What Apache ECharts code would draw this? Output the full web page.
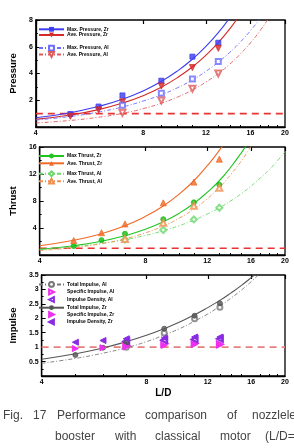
<!DOCTYPE html>
<html><head><meta charset="utf-8">
<script src="https://cdn.jsdelivr.net/npm/echarts@6/dist/echarts.min.js"></script>
<style>html,body{margin:0;padding:0;background:#fff;}#c{width:294px;height:448px;}</style>
</head><body><div id="c"></div>
<script>
// ---- data ----
const xPtsZr = [5, 6, 7, 9, 11, 13];
const xPtsAl = [7, 9, 11, 13];
const xFit = [4, 5, 6, 7, 8, 9, 10, 11, 12, 13, 14, 15, 16, 17, 18, 19, 20];
const xTickLabels = [4, 8, 12, 16, 20];
const xMinorTicks = [5, 6, 7, 9, 10, 11, 13, 14, 15, 17, 18, 19];
const refLevel = [1];

// Pressure
const maxPZr = [0.97, 1.53, 2.36, 3.46, 5.26, 6.3];
const avePZr = [0.8, 1.28, 1.88, 3.06, 4.44, 5.88];
const maxPAl = [1.62, 2.52, 3.58, 4.89];
const avePAl = [1.06, 1.98, 2.86, 4.0];
const fitMaxPZr = [0.69, 1.07, 1.54, 2.07, 2.70, 3.41, 4.20, 5.07, 6.02, 7.05, 8.17];
const fitAvePZr = [0.57, 0.90, 1.30, 1.79, 2.34, 2.98, 3.70, 4.50, 5.37, 6.31, 7.34, 8.45];
const fitMaxPAl = [0.52, 0.79, 1.12, 1.50, 1.94, 2.41, 2.94, 3.52, 4.16, 4.85, 5.58, 6.36, 7.20, 8.08];
const fitAvePAl = [0.30, 0.49, 0.73, 1.02, 1.37, 1.78, 2.24, 2.77, 3.36, 4.00, 4.70, 5.47, 6.29, 7.18, 8.13];

// Thrust
const maxTZr = [1.33, 2.2, 3.15, 5.3, 7.8, 10.4];
const aveTZr = [2.15, 3.3, 4.6, 7.73, 10.8, 14.2];
const maxTAl = [2.3, 3.7, 5.27, 7.0];
const aveTAl = [2.36, 4.78, 7.29, 9.95];
const fitMaxTZr = [0.84, 1.37, 2.03, 2.86, 3.80, 4.92, 6.20, 7.65, 9.27, 11.0, 13.0, 15.1, 17.3];
const fitAveTZr = [1.38, 2.18, 3.16, 4.33, 5.72, 7.27, 9.04, 11.0, 13.2, 15.5, 18.0];
const fitMaxTAl = [0.82, 1.23, 1.71, 2.27, 2.90, 3.59, 4.35, 5.17, 6.06, 7.0, 8.0, 9.07, 10.2, 11.4, 12.6, 13.9, 15.3];
const fitAveTAl = [0.66, 1.10, 1.69, 2.40, 3.28, 4.29, 5.47, 6.81, 8.32, 10.0, 11.9, 13.9, 16.1];

// Impulse
const totIZr = [0.73, 0.98, 1.15, 1.64, 2.09, 2.52];
const specIZr = [0.95, 0.98, 1.01, 1.06, 1.09, 1.08];
const densIZr = [1.17, 1.23, 1.29, 1.32, 1.35, 1.35];
const totIAl = [1.0, 1.49, 1.98, 2.38];
const specIAl = [1.05, 1.12, 1.13, 1.1];
const densIAl = [1.2, 1.24, 1.27, 1.29];
const fitTotIZr = [0.58, 0.77, 0.97, 1.19, 1.41, 1.64, 1.88, 2.12, 2.37, 2.62, 2.88, 3.14, 3.41, 3.68];
const fitTotIAl = [0.44, 0.61, 0.79, 0.98, 1.19, 1.42, 1.65, 1.90, 2.15, 2.42, 2.70, 2.98, 3.27, 3.57];

const captionLine1 = ['Fig.', '17', 'Performance', 'comparison', 'of', 'nozzleless'];
const captionLine2 = ['booster', 'with', 'classical', 'motor', '(L/D=7,'];

// ---- helpers ----
const pts = (xs, ys) => xs.map((x, i) => [x, ys[i]]);
const fit = ys => ys.map((y, i) => [xFit[i], y]);
const FONT = 'Liberation Sans';
const grids = [
  {left: 32, width: 253, top: 20, height: 107},
  {left: 32, width: 253, top: 147, height: 108},
  {left: 32, width: 253, top: 275, height: 101}
].map(g => Object.assign(g, {show: true, borderColor: '#000', borderWidth: 1.3}));

const xAxes = [];
[0, 1, 2].forEach(gi => {
  xAxes.push({
    type: 'log', logBase: 10, min: 4, max: 20, gridIndex: gi,
    name: gi === 2 ? 'L/D' : '', nameLocation: 'middle', nameGap: 12,
    nameTextStyle: {fontFamily: FONT, fontWeight: 'bold', fontSize: 10, color: '#000'},
    axisLine: {show: true, lineStyle: {color: '#000', width: 1.3}},
    axisTick: {show: true, inside: true, length: 2, customValues: xMinorTicks, lineStyle: {color: '#000'}},
    axisLabel: {show: true, customValues: xTickLabels, fontFamily: FONT, fontWeight: 'bold', fontSize: 7, color: '#000', margin: 3},
    splitLine: {show: false}
  });
  xAxes.push({
    type: 'log', logBase: 10, min: 4, max: 20, gridIndex: gi,
    axisLine: {show: false},
    axisTick: {show: true, inside: true, length: 4, customValues: xTickLabels, lineStyle: {color: '#000', width: 1.2}},
    axisLabel: {show: false},
    splitLine: {show: false}
  });
});

function yAxis(gi, name, max, interval) {
  return {
    type: 'value', gridIndex: gi, min: 0, max: max, interval: interval,
    name: name, nameLocation: 'middle', nameGap: 15,
    nameTextStyle: {fontFamily: FONT, fontWeight: 'bold', fontSize: 9.5, color: '#000'},
    axisLine: {show: true, lineStyle: {color: '#000', width: 1.3}},
    axisTick: {show: true, inside: true, length: 4, lineStyle: {color: '#000'}},
    minorTick: {show: true, splitNumber: 2, length: 2, lineStyle: {color: '#000'}},
    axisLabel: {showMinLabel: false, fontFamily: FONT, fontWeight: 'bold', fontSize: 7, color: '#000', margin: 3},
    splitLine: {show: false}, minorSplitLine: {show: false}
  };
}

const DASHDOT = [4, 2, 1, 2];
function fitLine(name, gi, ys, color, dashed, symbol, rotate) {
  return {
    name: name, type: 'line', xAxisIndex: gi * 2, yAxisIndex: gi,
    data: fit(ys), smooth: true, showSymbol: false, symbol: symbol, symbolRotate: rotate || 0,
    symbolSize: 5,
    lineStyle: {color: color, width: dashed ? 0.9 : 1.1, type: dashed ? DASHDOT : 'solid'},
    itemStyle: {color: color}, silent: true, z: 2
  };
}
function scatter(name, gi, xs, ys, color, symbol, rotate, size) {
  return {
    name: name, type: 'scatter', xAxisIndex: gi * 2, yAxisIndex: gi,
    data: pts(xs, ys), symbol: symbol, symbolRotate: rotate || 0, symbolSize: size || 5,
    itemStyle: {color: color, borderColor: color, borderWidth: 1}, silent: true, z: 4
  };
}
// marker-only series drawn as a line series with an invisible line, so the legend shows just the marker
function markers(name, gi, xs, ys, color, symbol, rotate, size) {
  return {
    name: name, type: 'line', xAxisIndex: gi * 2, yAxisIndex: gi,
    data: pts(xs, ys), symbol: symbol, symbolRotate: rotate || 0, symbolSize: size || 6, showSymbol: true,
    lineStyle: {opacity: 0, width: 0}, itemStyle: {color: color, borderColor: color, borderWidth: 1},
    silent: true, z: 4
  };
}
function refLine(gi, color) {
  return {
    type: 'line', xAxisIndex: gi * 2, yAxisIndex: gi, symbol: 'none', silent: true,
    data: [[xFit[0], refLevel[0]], [xFit[xFit.length - 1], refLevel[0]]],
    lineStyle: {color: color, width: 1.6, type: [7, 5]}, z: 1
  };
}

const C = {
  blue: '#3c3cf0', red: '#d42a2a', blueL: '#6b6bff', redL: '#e05a5a',
  green: '#22c422', orange: '#f06a28', greenL: '#6ad86a', orangeL: '#f09050',
  gray: '#555', grayL: '#777', mag: '#ee30ee', purp: '#8a2be2'
};

const series = [
  refLine(0, '#e83434'),
  fitLine('Max. Pressure, Zr', 0, fitMaxPZr, C.blue, false, 'rect'),
  fitLine('Ave. Pressure, Zr', 0, fitAvePZr, C.red, false, 'triangle', 180),
  fitLine('Max. Pressure, Al', 0, fitMaxPAl, C.blueL, true, 'emptyRect'),
  fitLine('Ave. Pressure, Al', 0, fitAvePAl, C.redL, true, 'emptyTriangle', 180),
  scatter('Max. Pressure, Zr', 0, xPtsZr, maxPZr, C.blue, 'rect', 0, 5),
  scatter('Ave. Pressure, Zr', 0, xPtsZr, avePZr, C.red, 'triangle', 180, 6),
  scatter('Max. Pressure, Al', 0, xPtsAl, maxPAl, C.blueL, 'emptyRect', 0, 5),
  scatter('Ave. Pressure, Al', 0, xPtsAl, avePAl, C.redL, 'emptyTriangle', 180, 6),

  refLine(1, '#e83434'),
  fitLine('Max Thrust, Zr', 1, fitMaxTZr, C.green, false, 'circle'),
  fitLine('Ave. Thrust, Zr', 1, fitAveTZr, C.orange, false, 'triangle'),
  fitLine('Max Thrust, Al', 1, fitMaxTAl, C.greenL, true, 'emptyDiamond'),
  fitLine('Ave. Thrust, Al', 1, fitAveTAl, C.orangeL, true, 'emptyTriangle'),
  scatter('Max Thrust, Zr', 1, xPtsZr, maxTZr, '#11bb11', 'circle', 0, 5),
  scatter('Ave. Thrust, Zr', 1, xPtsZr, aveTZr, C.orange, 'triangle', 0, 6),
  scatter('Max Thrust, Al', 1, xPtsAl, maxTAl, C.greenL, 'emptyDiamond', 0, 6),
  scatter('Ave. Thrust, Al', 1, xPtsAl, aveTAl, C.orangeL, 'emptyTriangle', 0, 6),

  refLine(2, '#e58080'),
  fitLine('Total Impulse, Al', 2, fitTotIAl, C.grayL, true, 'emptyCircle'),
  fitLine('Total Impulse, Zr', 2, fitTotIZr, C.gray, false, 'circle'),
  scatter('Total Impulse, Al', 2, xPtsAl, totIAl, C.grayL, 'emptyCircle', 0, 5),
  markers('Specific Impulse, Al', 2, xPtsAl, specIAl, C.mag, 'emptyTriangle', -90, 6),
  markers('Impulse Density, Al', 2, xPtsAl, densIAl, C.purp, 'emptyTriangle', 90, 6),
  scatter('Total Impulse, Zr', 2, xPtsZr, totIZr, C.gray, 'circle', 0, 5),
  markers('Specific Impulse, Zr', 2, xPtsZr, specIZr, C.mag, 'triangle', -90, 6),
  markers('Impulse Density, Zr', 2, xPtsZr, densIZr, C.purp, 'triangle', 90, 6)
];

const LH = 6;
function legend(names, top, spacing) {
  return {
    data: names, orient: 'vertical', left: 38, top: top - LH / 2, itemWidth: 25, itemHeight: LH, itemGap: spacing - LH,
    padding: 0, selectedMode: false,
    textStyle: {fontFamily: FONT, fontWeight: 'bold', fontSize: 5, color: '#000', lineHeight: LH, padding: [0, 0, 0, -2]}
  };
}

const graphics = [];
const l1x = [3, 33, 57, 145, 227, 252];
const l2x = [55, 115, 155, 220, 265];
captionLine1.forEach((w, i) => graphics.push({type: 'text', left: l1x[i], top: 410, style: {text: w, font: '12px "Liberation Sans"', fill: '#444'}}));
captionLine2.forEach((w, i) => graphics.push({type: 'text', left: l2x[i], top: 431, style: {text: w, font: '12px "Liberation Sans"', fill: '#444'}}));

const chart = echarts.init(document.getElementById('c'), null, {renderer: 'canvas'});
chart.setOption({
  animation: false,
  backgroundColor: '#fff',
  grid: grids,
  xAxis: xAxes,
  yAxis: [yAxis(0, 'Pressure', 8, 2), yAxis(1, 'Thrust', 16, 4), yAxis(2, 'Impulse', 3.5, 0.5)],
  legend: [
    legend(['Max. Pressure, Zr', 'Ave. Pressure, Zr'], 29.3, 5.7),
    legend(['Max. Pressure, Al', 'Ave. Pressure, Al'], 47.7, 5.6),
    legend(['Max Thrust, Zr', 'Ave. Thrust, Zr'], 156, 7.3),
    legend(['Max Thrust, Al', 'Ave. Thrust, Al'], 173.3, 6.7),
    legend(['Total Impulse, Al', 'Specific Impulse, Al', 'Impulse Density, Al'], 284, 6.8),
    legend(['Total Impulse, Zr', 'Specific Impulse, Zr', 'Impulse Density, Zr'], 307.7, 6.5)
  ],
  series: series,
  graphic: graphics
});
</script></body></html>
